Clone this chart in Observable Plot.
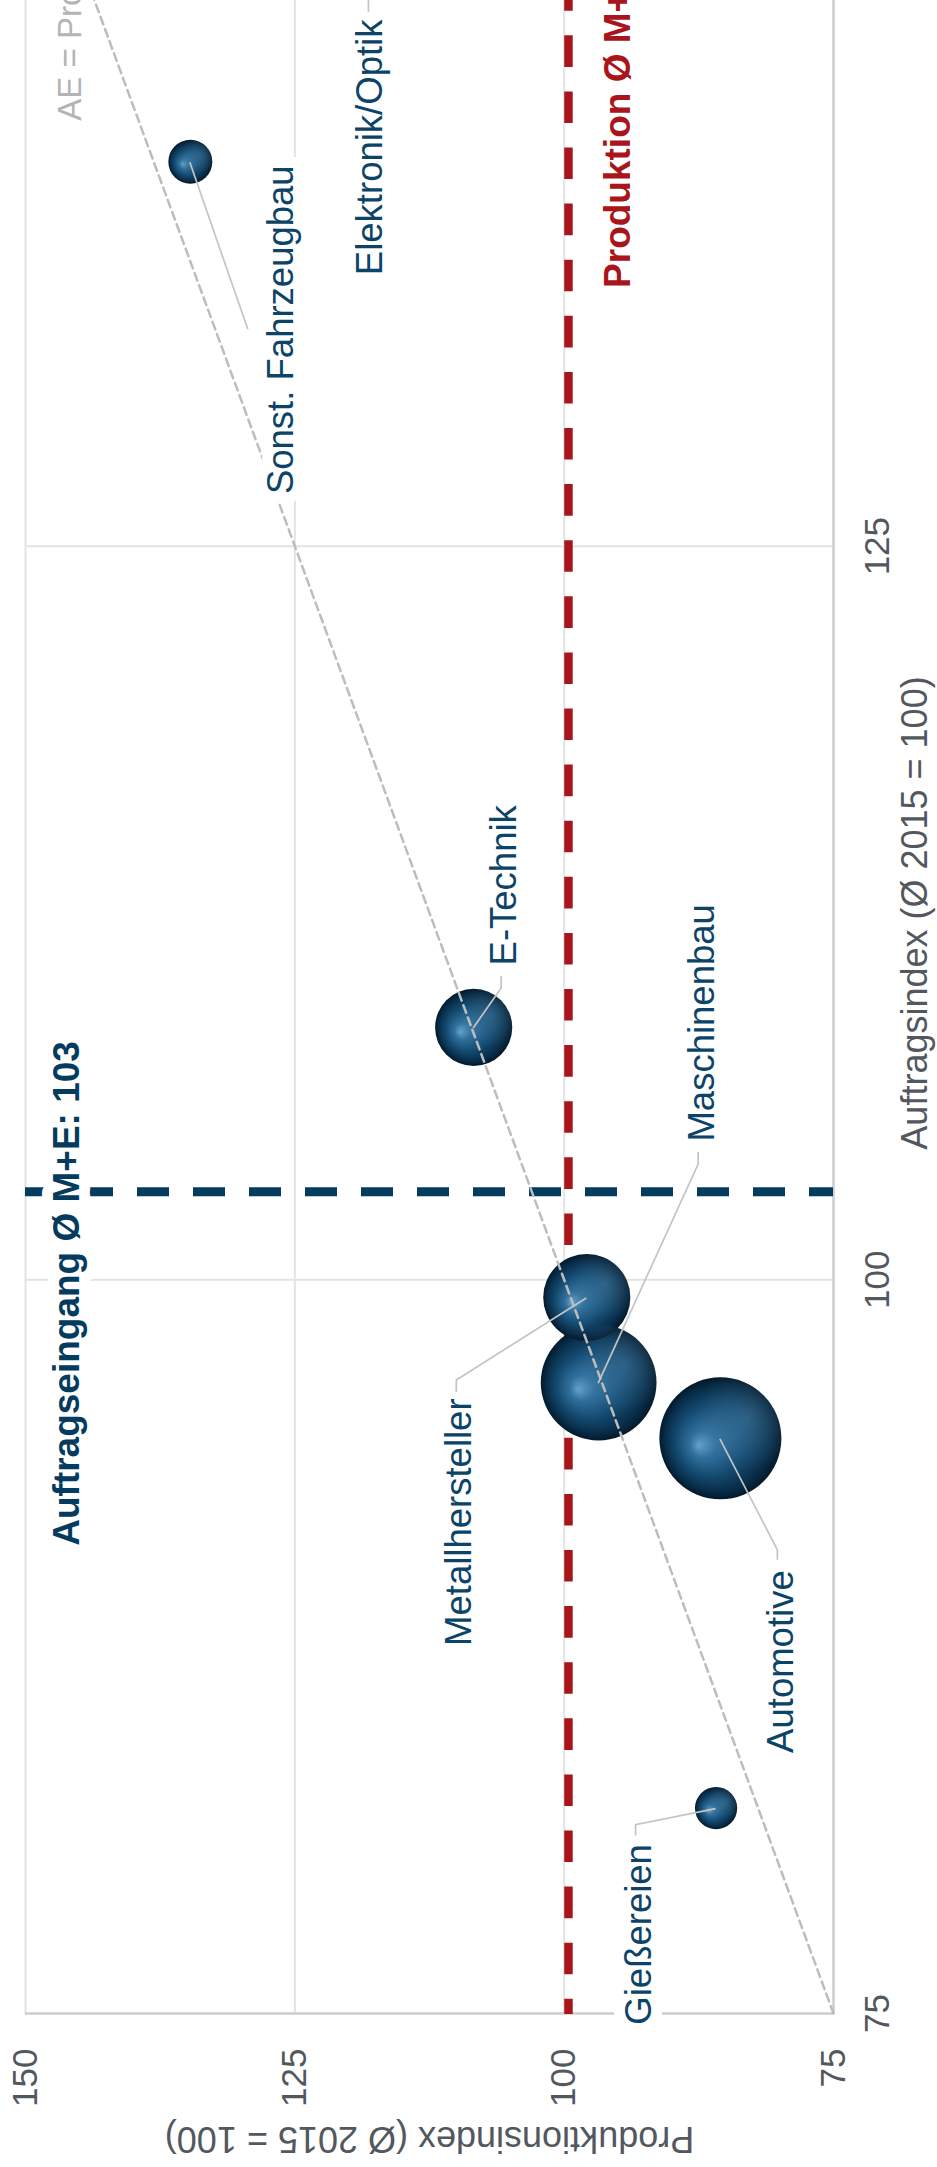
<!DOCTYPE html>
<html lang="de">
<head>
<meta charset="utf-8">
<title>Auftrags- und Produktionsindex M+E</title>
<script src="https://cdn.jsdelivr.net/npm/d3@7"></script>
<script src="https://cdn.jsdelivr.net/npm/@observablehq/plot@0.6"></script>
<style>
  html, body { margin: 0; padding: 0; background: #fff; }
  #blatt { position: relative; width: 937px; height: 2167px; overflow: hidden; background: #fff; }
  /* Das Diagramm wird quer gezeichnet und um 90° gegen den Uhrzeigersinn gedreht */
  #blatt > svg {
    position: absolute; left: 0; top: 0;
    max-width: none !important;
    transform-origin: 0 0;
    transform: translate(0px, 2167px) rotate(-90deg);
  }
</style>
</head>
<body>
<div id="blatt"></div>
<script>
// Branchen der Metall- und Elektroindustrie
const sektoren = ["Sonst. Fahrzeugbau", "Elektronik/Optik", "E-Technik", "Metallhersteller", "Maschinenbau", "Automotive", "Gießereien"];
// Auftragsindex (Ø 2015 = 100)
const auftragsindex = [138.1, 147.0, 108.6, 99.4, 96.5, 94.6, 82.0];
// Produktionsindex (Ø 2015 = 100)
const produktionsindex = [134.7, 121.0, 108.4, 97.9, 96.8, 85.5, 85.9];
// relative Größe der Branche (Kreisfläche, Automotive = 100)
const groesse = [13, 25, 40, 51, 90, 100, 12];
// Durchschnitt M+E
const auftragMittel = 103;
const produktionMittel = 99.6;
// Achsenteilung und Winkelhalbierende AE = Produktion
const achsenTicks = [75, 100, 125, 150];
const diagonale = [75, 150];

const zahl = (v) => String(v).replace(".", ",");

// Lage der Beschriftungen: Knickpunkte der Führungslinie und Textanker in px relativ zum Kreismittelpunkt
const beschriftung = [
  {linie: [[-167, 58]], text: [-168, 103], anker: "middle"},
  {linie: [[-96, 31], [-111, 31]], text: [-119, 44], anker: "end"},
  {linie: [[40, 28], [52, 28]], text: [62, 42], anker: "start"},
  {linie: [[-82, -130], [-94, -130]], text: [-101, -116], anker: "end"},
  {linie: [[219, 100], [231, 100]], text: [241, 115], anker: "start"},
  {linie: [[-111, 57.5], [-121, 57.5]], text: [-132, 72.5], anker: "end"},
  {linie: [[-16, -80], [-27, -80]], text: [-36, -65], anker: "end"}
];

const idx = sektoren.map((_, i) => i);
const blau = "#053b5e";
const rot = "#a8161c";
const schrift = "#0b4468";
const grau = "#52585e";

// Führungslinien von den Kreisen zu den Beschriftungen
const fuehrungslinien = (index, scales) => {
  const g = d3.create("svg:g")
    .attr("fill", "none")
    .attr("stroke", "#c4c4c4")
    .attr("stroke-width", 1.7);
  idx.forEach((i) => {
    const cx = scales.x(auftragsindex[i]);
    const cy = scales.y(produktionsindex[i]);
    const pts = [[cx, cy], ...beschriftung[i].linie.map(([dx, dy]) => [cx + dx, cy + dy])];
    g.append("polyline").attr("points", pts.map((p) => p.join(",")).join(" "));
  });
  return g.node();
};

const branchenTexte = idx.map((i) =>
  Plot.text([i], {
    x: (j) => auftragsindex[j],
    y: (j) => produktionsindex[j],
    text: (j) => sektoren[j],
    dx: beschriftung[i].text[0],
    dy: beschriftung[i].text[1],
    textAnchor: beschriftung[i].anker,
    lineAnchor: "bottom",
    fontSize: 36.5,
    fill: schrift,
    stroke: "white",
    strokeWidth: 22,
    strokeLinejoin: "round",
    paintOrder: "stroke"
  })
);

const plot = Plot.plot({
  width: 2374,
  height: 937,
  marginLeft: 153,
  marginRight: 20,
  marginTop: 25,
  marginBottom: 104,
  style: {fontFamily: "'Liberation Sans', Arial, sans-serif", background: "white", maxWidth: "none", overflow: "visible"},
  x: {domain: [75, 150], label: null},
  y: {domain: [75, 150], label: null},
  r: {type: "sqrt", domain: [0, 100], range: [0, 61]},
  marks: [
    Plot.gridX(achsenTicks.filter((t) => t > 75), {stroke: "#e3e3e3", strokeOpacity: 1, strokeWidth: 2}),
    Plot.gridY(achsenTicks.filter((t) => t > 75), {stroke: "#e3e3e3", strokeOpacity: 1, strokeWidth: 2}),
    Plot.ruleX([75], {stroke: "#cdcdcd", strokeWidth: 2.5}),
    Plot.ruleY([75], {stroke: "#cdcdcd", strokeWidth: 2.5}),
    Plot.ruleY([produktionMittel], {stroke: rot, strokeWidth: 8.5, strokeDasharray: "31.6,24.5", strokeDashoffset: 16.4}),
    Plot.ruleX([auftragMittel], {stroke: blau, strokeWidth: 9, strokeDasharray: "32,24"}),
    Plot.dot(idx, {x: (i) => auftragsindex[i], y: (i) => produktionsindex[i], r: (i) => groesse[i], fill: "url(#kugel)"}),
    Plot.dot(idx, {x: (i) => auftragsindex[i], y: (i) => produktionsindex[i], r: (i) => groesse[i], fill: "url(#glanz)"}),
    Plot.line(diagonale, {x: (d) => d, y: (d) => d, stroke: "#bdbdbd", strokeWidth: 2.5, strokeDasharray: "8,5"}),
    ...branchenTexte,
    Plot.text([auftragMittel], {
      x: (d) => d, y: () => 150,
      text: (d) => `Auftragseingang Ø M+E: ${zahl(d)}`,
      dx: -354, dy: 53, textAnchor: "start", lineAnchor: "bottom",
      fontSize: 37, fontWeight: "bold", fill: blau,
      stroke: "white", strokeWidth: 22, strokeLinejoin: "round", paintOrder: "stroke"
    }),
    Plot.text([produktionMittel], {
      x: () => 133.8, y: (d) => d,
      text: (d) => `Produktion Ø M+E: ${zahl(d)}`,
      dy: 62, textAnchor: "start", lineAnchor: "bottom",
      fontSize: 37, fontWeight: "bold", fill: rot,
      stroke: "white", strokeWidth: 22, strokeLinejoin: "round", paintOrder: "stroke"
    }),
    Plot.text([139.5], {
      x: (d) => d, y: (d) => d,
      text: () => "AE = Produktion",
      dy: -57.5, textAnchor: "start", lineAnchor: "bottom",
      fontSize: 33, fill: "#b4b4b4"
    }),
    fuehrungslinien,
    Plot.axisX({ticks: achsenTicks, tickSize: 0, tickPadding: 30.5, fontSize: 35, color: grau, label: null}),
    Plot.axisY({ticks: achsenTicks, tickSize: 0, tickPadding: 35, fontSize: 35, color: grau, label: null}),
    Plot.text(["Auftragsindex (Ø 2015 = 100)"], {frameAnchor: "bottom", dy: 93, lineAnchor: "bottom", textAnchor: "middle", fontSize: 36, fill: grau}),
    Plot.text(["Produktionsindex (Ø 2015 = 100)"], {frameAnchor: "left", rotate: -90, dx: -113.6, lineAnchor: "bottom", textAnchor: "middle", fontSize: 36, fill: grau})
  ]
});

// Kugel-Schattierung für die Kreise
const defs = d3.select(plot).insert("defs", ":first-child");
const kugel = defs.append("radialGradient").attr("id", "kugel")
  .attr("cx", 0.5).attr("cy", 0.5).attr("r", 0.5).attr("fx", 0.44).attr("fy", 0.32);
[[0, "#64a1cd"], [0.22, "#31709c"], [0.55, "#154c73"], [0.85, "#082d49"], [1, "#03192b"]]
  .forEach(([o, c]) => kugel.append("stop").attr("offset", o).attr("stop-color", c));
const glanz = defs.append("radialGradient").attr("id", "glanz")
  .attr("cx", 0.66).attr("cy", 0.72).attr("r", 0.42);
[[0, "#6fa9d0", 0.32], [1, "#6fa9d0", 0]]
  .forEach(([o, c, a]) => glanz.append("stop").attr("offset", o).attr("stop-color", c).attr("stop-opacity", a));

document.getElementById("blatt").append(plot);
</script>
</body>
</html>
